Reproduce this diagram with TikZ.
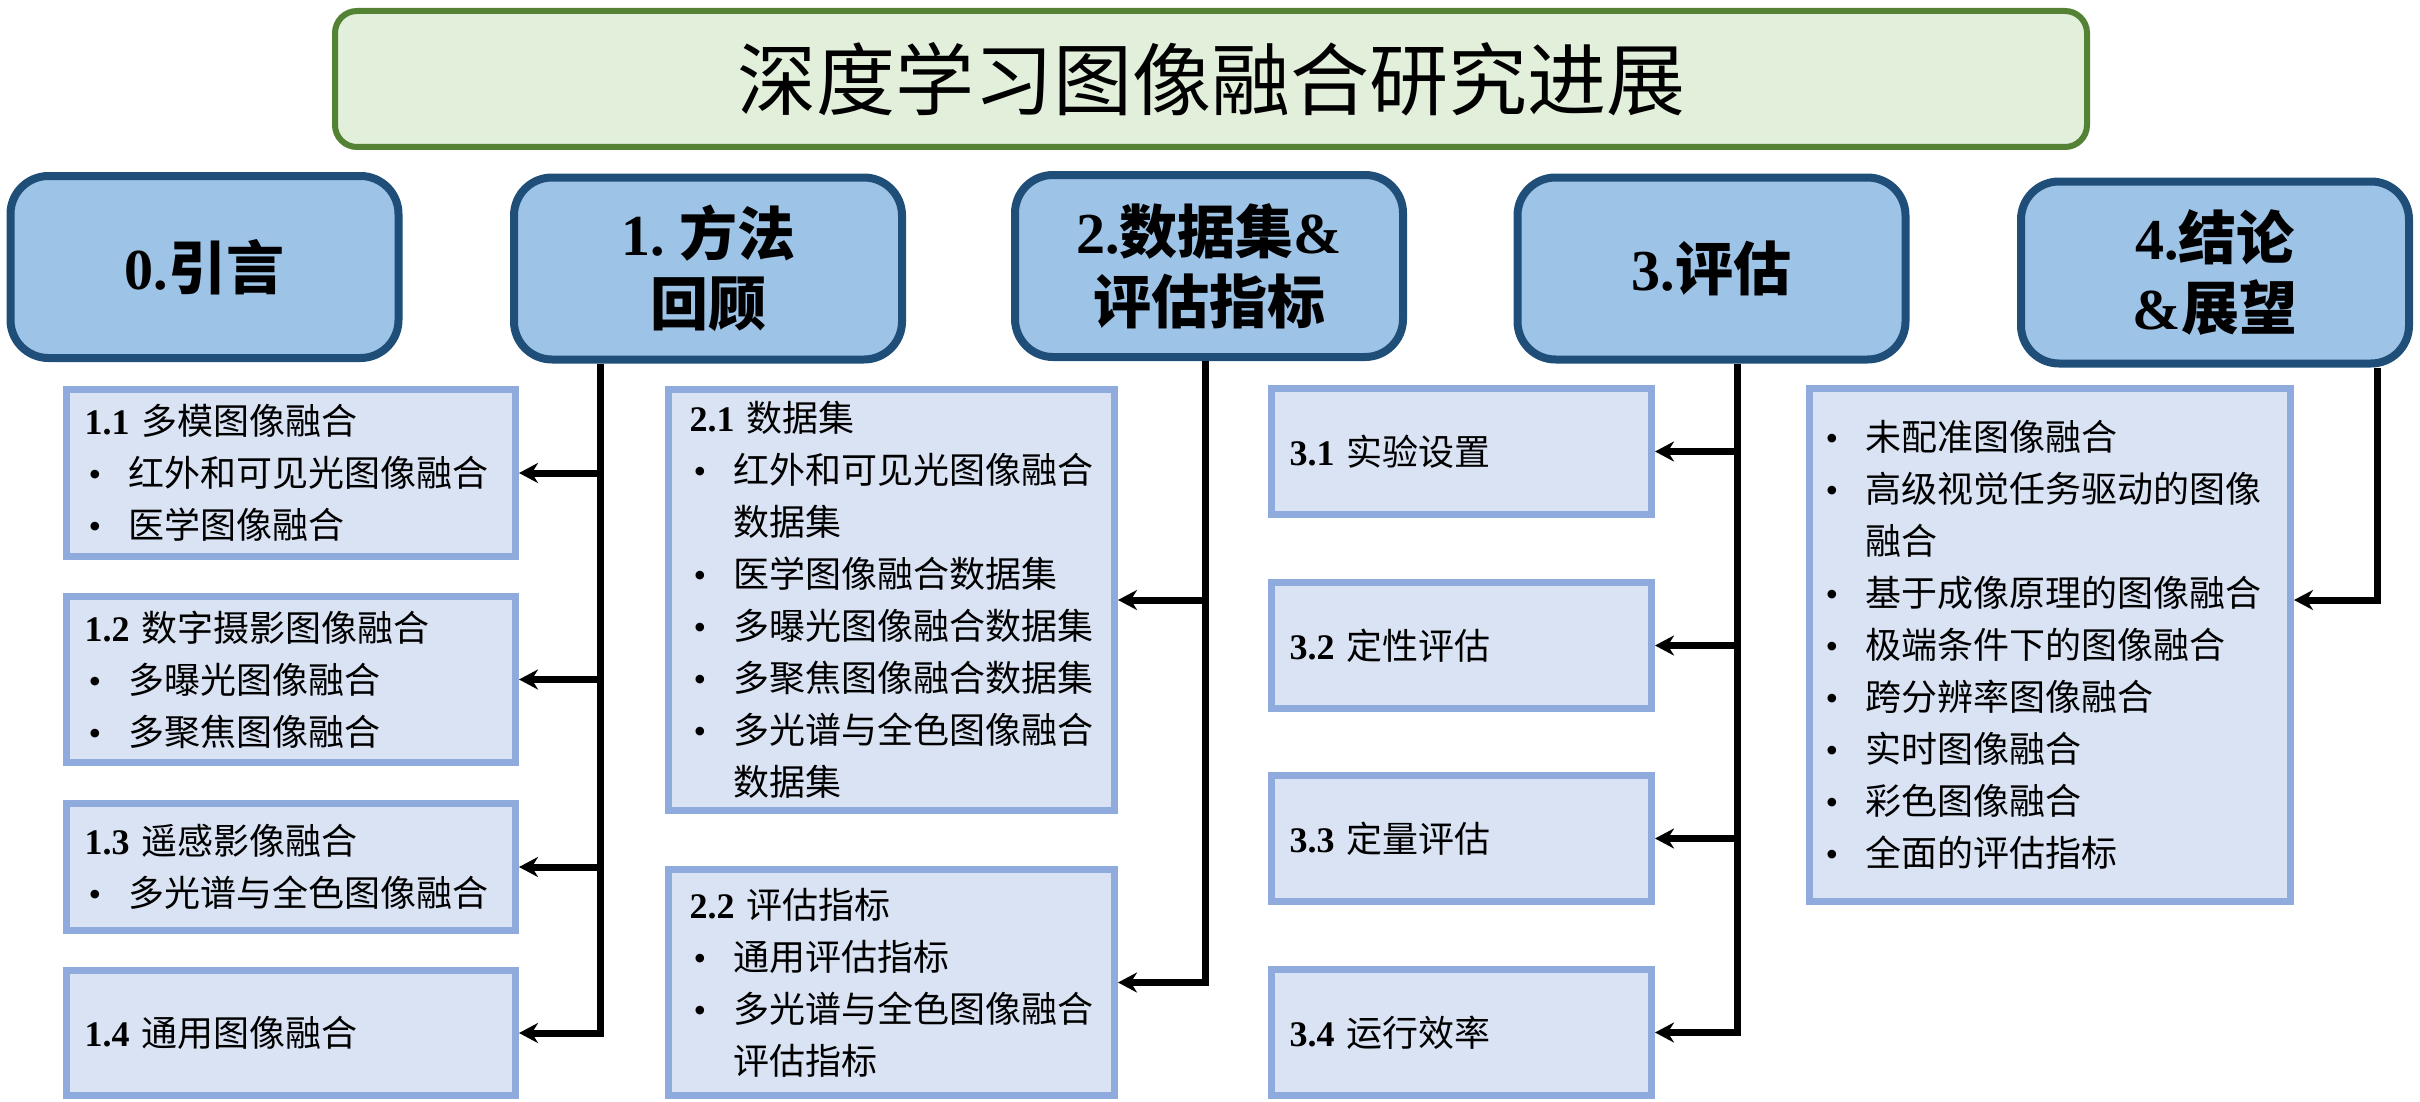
\documentclass[tikz,border=0pt]{standalone}
\usepackage{fontspec}
\setmainfont{Liberation Serif}
\newfontfamily\zhfont{Noto Sans CJK SC}
\usetikzlibrary{arrows.meta,calc}
\newcommand\zh[1]{{\zhfont #1}}
\newcommand\bl[1]{\makebox[22pt][l]{\hspace{2pt}\textbullet}\zh{#1}}
\newcommand\bc[1]{\hspace*{22pt}\zh{#1}}
\definecolor{tgreen}{HTML}{548235}
\definecolor{tfill}{HTML}{E2EFDA}
\definecolor{tdark}{HTML}{1F4E79}
\definecolor{tblue}{HTML}{9DC3E6}
\definecolor{sborder}{HTML}{8FAADC}
\definecolor{sfill}{HTML}{DAE3F3}
\begin{document}
\begin{tikzpicture}[x=0.5pt,y=-0.5pt,
  titlebox/.style={draw=tgreen, fill=tfill, line width=3pt, rounded corners=11pt,
    minimum width=876pt, minimum height=68pt, inner sep=0pt,
    font=\fontsize{39.5pt}{46pt}\selectfont\zhfont},
  topbox/.style={draw=tdark, fill=tblue, line width=4pt, rounded corners=19pt,
    minimum width=194pt, minimum height=91pt, inner sep=0pt, align=center,
    font=\fontsize{29pt}{35pt}\selectfont\bfseries},
  subbox/.style={draw=sborder, fill=sfill, line width=3.5pt, inner ysep=0pt,
    align=left, font=\fontsize{18pt}{26pt}\selectfont},
  cA/.style={subbox, inner xsep=9pt, text width=206.5pt},
  cB/.style={subbox, inner xsep=10.5pt, text width=202pt},
  cC/.style={subbox, inner xsep=9pt, text width=172pt, minimum height=63pt},
  cD/.style={subbox, inner xsep=6pt, text width=228.5pt},
  conn/.style={line width=3.5pt, black},
  arr/.style={conn, -{Stealth[length=9.5pt,width=10pt]}}
]
\useasboundingbox (0,0) rectangle (2420,1102);

% title
\node[titlebox] (title) at (1211,79) {深度学习图像融合研究进展};

% top level
\node[topbox] (p0) at (204.5,267) {0.\zh{引言}};
\node[topbox] (p1) at (708,268.5) {1.\ \zh{方法}\\\zh{回顾}};
\node[topbox] (p2) at (1209,266) {2.\zh{数据集}\&\\\zh{评估指标}};
\node[topbox] (p3) at (1711.5,268.5) {3.\zh{评估}};
\node[topbox] (p4) at (2215,272.5) {4.\zh{结论}\\\&\zh{展望}};

% column 1
\node[cA, minimum height=83.5pt] (b11) at (291,473)
  {\textbf{1.1} \zh{多模图像融合}\\\bl{红外和可见光图像融合}\\\bl{医学图像融合}};
\node[cA, minimum height=83pt] (b12) at (291,679.5)
  {\textbf{1.2} \zh{数字摄影图像融合}\\\bl{多曝光图像融合}\\\bl{多聚焦图像融合}};
\node[cA, minimum height=63.5pt] (b13) at (291,867)
  {\textbf{1.3} \zh{遥感影像融合}\\\bl{多光谱与全色图像融合}};
\node[cA, minimum height=62.5pt] (b14) at (291,1033)
  {\textbf{1.4} \zh{通用图像融合}};

% column 2
\node[cB, minimum height=210.5pt] (b21) at (891.5,600)
  {\textbf{2.1} \zh{数据集}\\\bl{红外和可见光图像融合}\\\bc{数据集}\\\bl{医学图像融合数据集}\\\bl{多曝光图像融合数据集}\\\bl{多聚焦图像融合数据集}\\\bl{多光谱与全色图像融合}\\\bc{数据集}};
\node[cB, minimum height=113pt] (b22) at (891.5,982.5)
  {\textbf{2.2} \zh{评估指标}\\\bl{通用评估指标}\\\bl{多光谱与全色图像融合}\\\bc{评估指标}};

% column 3
\node[cC] (b31) at (1461.5,451.5) {\textbf{3.1} \zh{实验设置}};
\node[cC] (b32) at (1461.5,645.5) {\textbf{3.2} \zh{定性评估}};
\node[cC] (b33) at (1461.5,838.5) {\textbf{3.3} \zh{定量评估}};
\node[cC] (b34) at (1461.5,1032.5) {\textbf{3.4} \zh{运行效率}};

% column 4
\node[cD, minimum height=256.5pt] (b4) at (2050,645)
  {\bl{未配准图像融合}\\\bl{高级视觉任务驱动的图像}\\\bc{融合}\\\bl{基于成像原理的图像融合}\\\bl{极端条件下的图像融合}\\\bl{跨分辨率图像融合}\\\bl{实时图像融合}\\\bl{彩色图像融合}\\\bl{全面的评估指标}};

% trunks
\coordinate (j1) at ($(p1.south)+(-108,0)$);
\coordinate (j2) at ($(p2.south)+(-4,0)$);
\coordinate (j3) at ($(p3.south)+(25.5,0)$);
\coordinate (j4) at ($(p4.south)+(162,0)$);
\coordinate (e4) at ($(b4.east)+(0,-45)$);

\draw[arr] (j1) |- (b14.east);
\draw[arr] (j1 |- b11.east) -- (b11.east);
\draw[arr] (j1 |- b12.east) -- (b12.east);
\draw[arr] (j1 |- b13.east) -- (b13.east);

\draw[arr] (j2) |- (b22.east);
\draw[arr] (j2 |- b21.east) -- (b21.east);

\draw[arr] (j3) |- (b34.east);
\draw[arr] (j3 |- b31.east) -- (b31.east);
\draw[arr] (j3 |- b32.east) -- (b32.east);
\draw[arr] (j3 |- b33.east) -- (b33.east);

\draw[arr] (j4) |- (e4);
\end{tikzpicture}
\end{document}
